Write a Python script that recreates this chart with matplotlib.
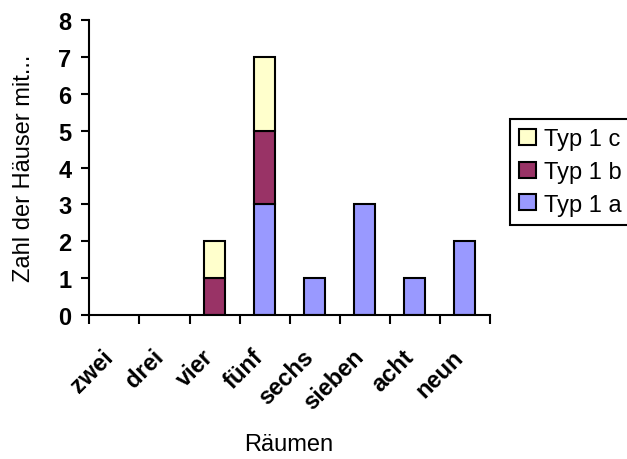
import matplotlib
matplotlib.use("Agg")
import matplotlib.pyplot as plt
import numpy as np

categories = ["zwei", "drei", "vier", "fünf", "sechs", "sieben", "acht", "neun"]
typ_1a = [0, 0, 0, 3, 1, 3, 1, 2]
typ_1b = [0, 0, 1, 2, 0, 0, 0, 0]
typ_1c = [0, 0, 1, 2, 0, 0, 0, 0]

plt.rcParams['font.family'] = ['Liberation Sans', 'DejaVu Sans']
FS = 17

fig = plt.figure(figsize=(6.27, 4.6), dpi=100)
ax = fig.add_axes([0.1425, 0.313, 0.639, 0.641])

x = np.arange(len(categories))
w = 0.42


def lw(vals):
    # no outline for empty segments
    return [1.5 if v > 0 else 0 for v in vals]


b1 = ax.bar(x, typ_1a, width=w, color="#9999FF", edgecolor="black",
            linewidth=lw(typ_1a), label="Typ 1 a")
b2 = ax.bar(x, typ_1b, width=w, bottom=typ_1a, color="#993366",
            edgecolor="black", linewidth=lw(typ_1b), label="Typ 1 b")
bottom_c = np.array(typ_1a) + np.array(typ_1b)
b3 = ax.bar(x, typ_1c, width=w, bottom=bottom_c, color="#FFFFCC",
            edgecolor="black", linewidth=lw(typ_1c), label="Typ 1 c")

ax.set_xlim(-0.5, len(categories) - 0.5)
ax.set_ylim(0, 8)
ax.set_yticks(range(0, 9))
ax.tick_params(axis="y", labelsize=FS, width=1.5, length=6, pad=7,
               direction="out")
for t in ax.get_yticklabels():
    t.set_fontweight("bold")

# ticks at category boundaries, labels at centers
ax.set_xticks(np.arange(-0.5, len(categories), 1.0))
ax.set_xticklabels([])
ax.tick_params(axis="x", width=1.5, length=6.5, direction="out")
for i, c in enumerate(categories):
    ax.text(i - 0.26, -0.81, c, rotation=45, ha="right", va="top",
            rotation_mode="anchor", fontsize=FS, fontweight="bold")

for s in ["top", "right"]:
    ax.spines[s].set_visible(False)
ax.spines["left"].set_linewidth(1.5)
ax.spines["bottom"].set_linewidth(1.5)

fig.text(24 / 627, 1 - 168 / 460, "Zahl der Häuser mit...", rotation=90,
         ha="center", va="center", fontsize=FS)
fig.text(289 / 627, 1 - 445 / 460, "Räumen", ha="center", va="center",
         fontsize=FS)

leg = fig.legend(handles=[b3[3], b2[3], b1[3]],
                 labels=["Typ 1 c", "Typ 1 b", "Typ 1 a"],
                 loc="lower left", bbox_to_anchor=(510 / 627, 1 - 226 / 460),
                 fontsize=FS, frameon=True, fancybox=False,
                 edgecolor="black", framealpha=1,
                 handlelength=0.68, handleheight=0.68, handletextpad=0.35,
                 borderpad=0.4, labelspacing=0.45, borderaxespad=0)
leg.get_frame().set_linewidth(1.5)

fig.savefig("out.png", dpi=100)
